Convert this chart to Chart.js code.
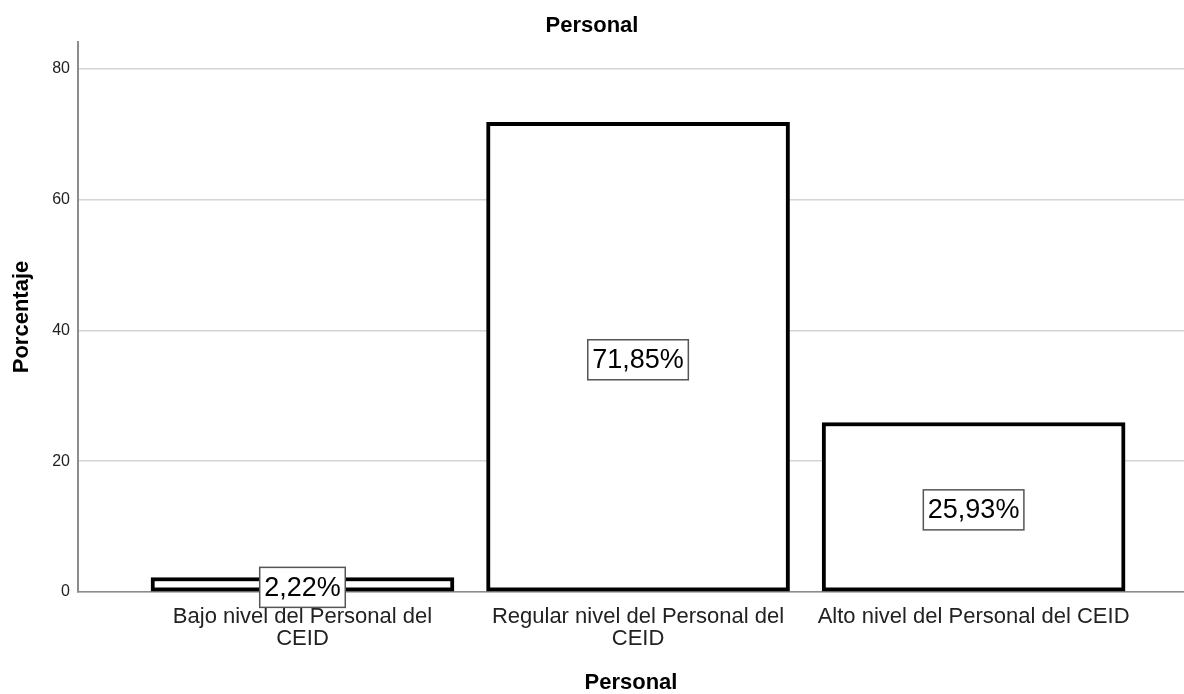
<!DOCTYPE html>
<html>
<head>
<meta charset="utf-8">
<script src="https://cdn.jsdelivr.net/npm/chart.js@4/dist/chart.umd.min.js"></script>
<style>
  html, body { margin: 0; padding: 0; background: #ffffff; }
  #wrap { width: 1184px; height: 694px; }
</style>
</head>
<body>
<div id="wrap"><canvas id="c" width="1184" height="694"></canvas></div>
<script>
const chartTitle = "Personal";
const xAxisTitle = "Personal";
const yAxisTitle = "Porcentaje";
const categories = [
  ["Bajo nivel del Personal del", "CEID"],
  ["Regular nivel del Personal del", "CEID"],
  ["Alto nivel del Personal del CEID"]
];
const percentages = [2.22, 71.85, 25.93];
const yTickValues = [0, 20, 40, 60, 80];

const FONT = "'Liberation Sans', Arial, Helvetica, sans-serif";

const labelPlugin = {
  id: 'boxLabels',
  afterDatasetsDraw(chart) {
    const ctx = chart.ctx;
    const meta = chart.getDatasetMeta(0);
    ctx.save();
    ctx.font = "27px " + FONT;
    ctx.textAlign = 'center';
    ctx.textBaseline = 'middle';
    meta.data.forEach((bar, i) => {
      const txt = percentages[i].toFixed(2).replace('.', ',') + '%';
      const cx = bar.x;
      const cy = (bar.y + bar.base) / 2 + 3;
      const w = ctx.measureText(txt).width + 9;
      const h = 40;
      ctx.fillStyle = '#ffffff';
      ctx.fillRect(cx - w / 2, cy - h / 2, w, h);
      ctx.strokeStyle = '#555555';
      ctx.lineWidth = 1.5;
      ctx.strokeRect(cx - w / 2, cy - h / 2, w, h);
      ctx.fillStyle = '#000000';
      ctx.fillText(txt, cx, cy + 1);
    });
    ctx.restore();
  }
};

new Chart(document.getElementById('c'), {
  type: 'bar',
  data: {
    datasets: [{
      data: percentages.map((v, i) => ({ x: i, y: v })),
      backgroundColor: '#ffffff',
      borderColor: '#000000',
      borderWidth: 4,
      borderSkipped: false,
      barThickness: 303
    }]
  },
  options: {
    responsive: false,
    devicePixelRatio: 1,
    animation: false,
    layout: { padding: 0 },
    plugins: {
      legend: { display: false },
      tooltip: { enabled: false },
      title: {
        display: true,
        text: chartTitle,
        color: '#000000',
        font: { family: FONT, size: 22, weight: 'bold', lineHeight: 1.0 },
        padding: { top: 15, bottom: 5 }
      }
    },
    scales: {
      x: {
        type: 'linear',
        offset: false,
        min: -0.669,
        max: 2.627,
        afterBuildTicks(scale) { scale.ticks = categories.map((c, i) => ({ value: i })); },
        afterFit(scale) { scale.height = 102; },
        grid: { display: false, drawTicks: false, offset: false },
        border: { display: true, color: '#8c8c8c', width: 1.5 },
        ticks: {
          autoSkip: false,
          maxRotation: 0,
          padding: 14,
          color: '#222222',
          font: { family: FONT, size: 22, lineHeight: 1.0 },
          callback: (v) => categories[v]
        },
        title: {
          display: true,
          text: xAxisTitle,
          color: '#000000',
          font: { family: FONT, size: 22, weight: 'bold', lineHeight: 1.0 },
          padding: { top: 0, bottom: 0 }
        }
      },
      y: {
        min: 0,
        max: 84.13,
        afterBuildTicks(scale) { scale.ticks = yTickValues.map(v => ({ value: v })); },
        afterFit(scale) { scale.width = 78; },
        grid: { color: '#d4d4d4', lineWidth: 1.5, drawTicks: false },
        border: { display: true, color: '#8c8c8c', width: 2 },
        ticks: {
          padding: 8,
          color: '#222222',
          font: { family: FONT, size: 16 }
        },
        title: {
          display: true,
          text: yAxisTitle,
          color: '#000000',
          font: { family: FONT, size: 22, weight: 'bold', lineHeight: 1.0 },
          padding: { top: 11, bottom: 0 }
        }
      }
    }
  },
  plugins: [labelPlugin]
});
</script>
</body>
</html>
